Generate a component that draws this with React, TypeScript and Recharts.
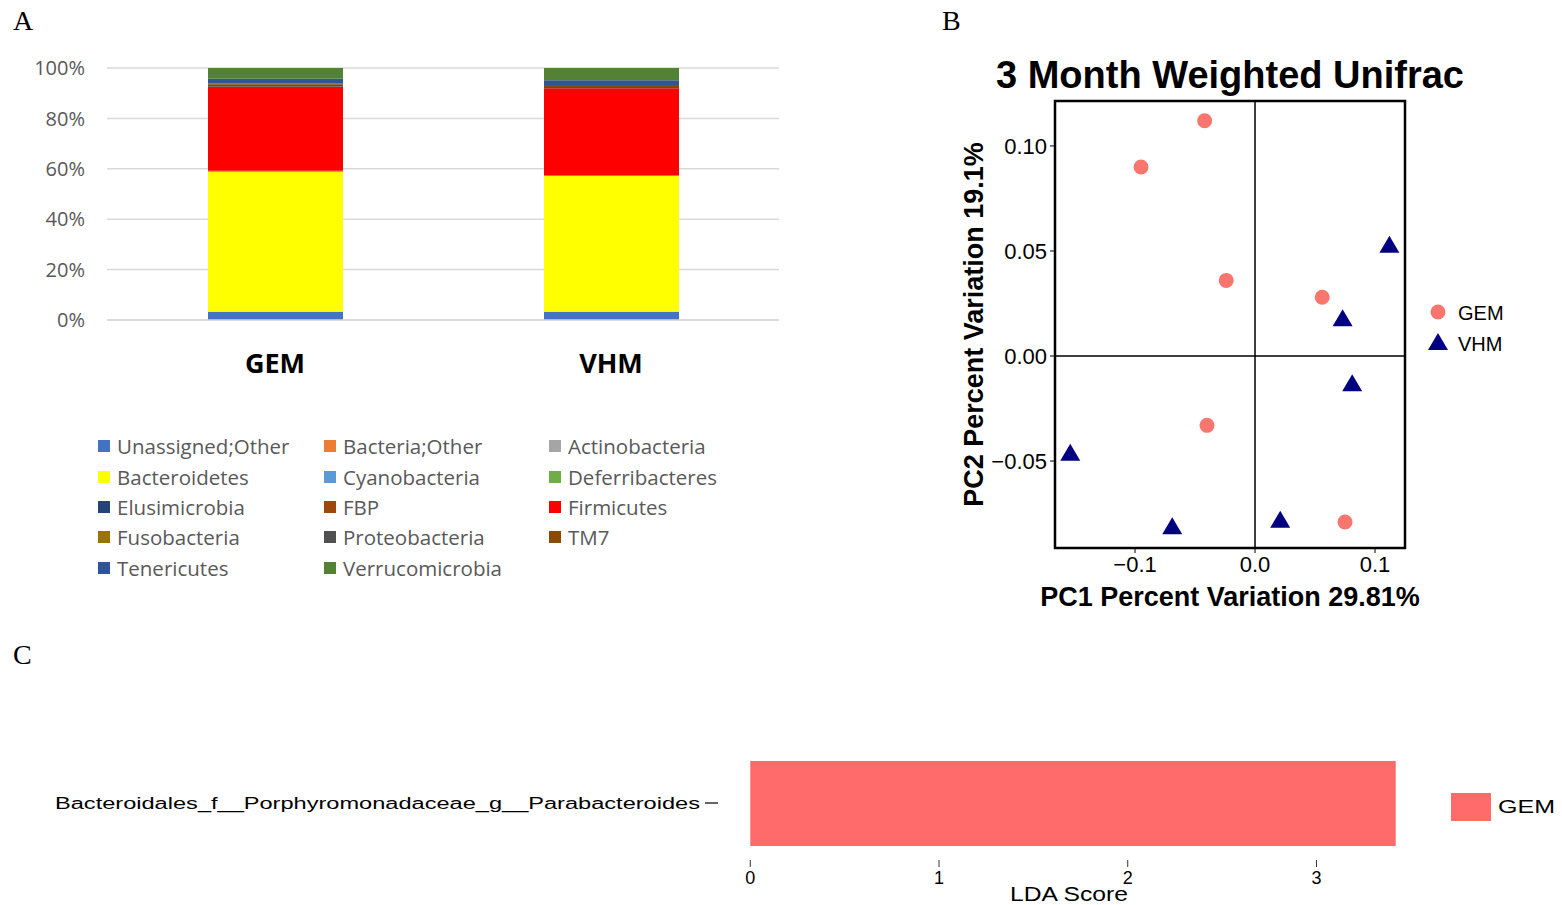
import React from "react";
import {
  BarChart,
  Bar,
  XAxis,
  YAxis,
  CartesianGrid,
  ScatterChart,
  Scatter,
  ReferenceLine,
  ReferenceArea,
} from "recharts";

// panel A - relative abundance by phylum
const groups = ["GEM", "VHM"];
const phyla = [
  "Unassigned;Other",
  "Bacteria;Other",
  "Actinobacteria",
  "Bacteroidetes",
  "Cyanobacteria",
  "Deferribacteres",
  "Elusimicrobia",
  "FBP",
  "Firmicutes",
  "Fusobacteria",
  "Proteobacteria",
  "TM7",
  "Tenericutes",
  "Verrucomicrobia",
];
const phylumColors = [
  "#4472C4", "#ED7D31", "#A5A5A5", "#FFFF00", "#5B9BD5", "#70AD47", "#264478",
  "#9E480E", "#FF0000", "#997300", "#505050", "#8C4A00", "#2F5597", "#548235",
];
const gemShares = [3.2, 0.1, 0.1, 55.4, 0.05, 0.2, 0.1, 0.05, 33.3, 0.05, 0.8, 0.5, 1.9, 4.25];
const vhmShares = [3.2, 0.1, 0.1, 53.7, 0.05, 0.2, 0.05, 0.05, 34.5, 0.05, 0.5, 0.8, 1.8, 4.9];
const percentTicks = [0, 20, 40, 60, 80, 100];

// panel B - PCoA
const gemPC1 = [-0.042, -0.095, -0.024, 0.056, -0.04, 0.075];
const gemPC2 = [0.112, 0.09, 0.036, 0.028, -0.033, -0.079];
const vhmPC1 = [0.112, 0.073, 0.081, -0.154, -0.069, 0.021];
const vhmPC2 = [0.053, 0.018, -0.013, -0.046, -0.081, -0.078];
const pc1Ticks = [-0.1, 0, 0.1];
const pc2Ticks = [-0.05, 0, 0.05, 0.1];
const pc1Domain = [-0.1667, 0.125];
const pc2Domain = [-0.0914, 0.1214];

// panel C - LEfSe
const ldaTaxa = ["Bacteroidales_f__Porphyromonadaceae_g__Parabacteroides"];
const ldaScores = [3.42];
const ldaTicks = [0, 1, 2, 3];

const GEM_PINK = "#F8766D";
const VHM_NAVY = "#000080";
const LDA_RED = "#FF6A6A";
const HELV = "'Liberation Sans', Arial, Helvetica, sans-serif";
const OPEN = "'Open Sans', sans-serif";

const stackData = groups.map((g, gi) => {
  const row: Record<string, any> = { group: g };
  const shares = gi === 0 ? gemShares : vhmShares;
  phyla.forEach((_, i) => (row["p" + i] = shares[i]));
  return row;
});

const gemPoints = gemPC1.map((x, i) => ({ x, y: gemPC2[i] }));
const vhmPoints = vhmPC1.map((x, i) => ({ x, y: vhmPC2[i] }));
const ldaData = ldaTaxa.map((t, i) => ({ taxon: t, score: ldaScores[i] }));

const minus = (s: string) => s.replace("-", "\u2212");

const Circle = (p: any) => <circle cx={p.cx} cy={p.cy} r={7.5} fill={GEM_PINK} />;
const Triangle = (p: any) => (
  <path
    d={`M${p.cx},${p.cy - 9} L${p.cx + 10},${p.cy + 8} L${p.cx - 10},${p.cy + 8} Z`}
    fill={VHM_NAVY}
  />
);

const GroupTick = ({ x, y, payload }: any) => (
  <text x={x} y={y + 42} textAnchor="middle" dominantBaseline="central"
    fontFamily={OPEN} fontWeight={700} fontSize={27} fill="#000">
    {payload.value}
  </text>
);

const TaxonTick = ({ x, y, payload }: any) => (
  <text x={x} y={y} textAnchor="end" dominantBaseline="central" fontFamily={HELV}
    fontSize={16} fill="#000" textLength={645} lengthAdjust="spacingAndGlyphs">
    {payload.value}
  </text>
);

const legendCols = [98, 324, 549];
const legendRows = [446, 477, 507, 537, 568];

export default function App() {
  return (
    <div style={{ position: "absolute", left: 0, top: 0, width: 1562, height: 905, background: "#fff" }}>
      {/* A */}
      <div style={{ position: "absolute", left: 0, top: 0 }}>
        <BarChart width={800} height={400} data={stackData}
          margin={{ top: 68, right: 21, left: 0, bottom: 30 }}>
          <CartesianGrid vertical={false} stroke="#D9D9D9" strokeWidth={1.5} />
          <XAxis dataKey="group" height={50} axisLine={{ stroke: "#D9D9D9", strokeWidth: 1.5 }}
            tickLine={false} tickSize={0} tickMargin={0} tick={<GroupTick />} />
          <YAxis type="number" domain={[0, 100]} ticks={percentTicks} width={107}
            axisLine={false} tickLine={false} tickSize={0} tickMargin={22}
            tickFormatter={(v: number) => `${v}%`}
            tick={{ fontSize: 20, fill: "#595959", fontFamily: OPEN }} />
          {phyla.map((name, i) => (
            <Bar key={name} dataKey={"p" + i} name={name} stackId="a" barSize={135}
              fill={phylumColors[i]} isAnimationActive={false} />
          ))}
        </BarChart>
      </div>

      {/* B */}
      <div style={{ position: "absolute", left: 940, top: 40 }}>
        <ScatterChart width={620} height={590} margin={{ top: 61, right: 155, bottom: 22, left: 0 }}>
          <XAxis type="number" dataKey="x" domain={pc1Domain} ticks={pc1Ticks} allowDataOverflow
            height={60} axisLine={false} tickLine={{ stroke: "#000" }} tickSize={5} tickMargin={3}
            tickFormatter={(v: number) => minus(v.toFixed(1))}
            tick={{ fontSize: 22, fill: "#000", fontFamily: HELV }}
            label={{ value: "PC1 Percent Variation 29.81%", position: "insideBottom", offset: 2,
              style: { fontSize: 27, fontWeight: 700, fill: "#000", fontFamily: HELV } }} />
          <YAxis type="number" dataKey="y" domain={pc2Domain} ticks={pc2Ticks} allowDataOverflow
            width={115} axisLine={false} tickLine={{ stroke: "#000" }} tickSize={5} tickMargin={3}
            tickFormatter={(v: number) => minus(v.toFixed(2))}
            tick={{ fontSize: 22, fill: "#000", fontFamily: HELV }}
            label={{ value: "PC2 Percent Variation 19.1%", angle: -90, position: "insideLeft", offset: 33,
              style: { textAnchor: "middle", fontSize: 27, fontWeight: 700, fill: "#000", fontFamily: HELV } }} />
          <ReferenceArea x1={pc1Domain[0]} x2={pc1Domain[1]} y1={pc2Domain[0]} y2={pc2Domain[1]}
            fill="none" fillOpacity={0} stroke="#000" strokeWidth={2.5} ifOverflow="visible" />
          <ReferenceLine x={0} stroke="#000" strokeWidth={1.5} />
          <ReferenceLine y={0} stroke="#000" strokeWidth={1.5} />
          <Scatter name="GEM" data={gemPoints} shape={Circle} isAnimationActive={false} />
          <Scatter name="VHM" data={vhmPoints} shape={Triangle} isAnimationActive={false} />
        </ScatterChart>
      </div>

      {/* C */}
      <div style={{ position: "absolute", left: 0, top: 730 }}>
        <BarChart width={1562} height={175} data={ldaData} layout="vertical"
          margin={{ top: 16, right: 134, bottom: 0, left: 0 }}>
          <XAxis type="number" dataKey="score" domain={[-0.171, 3.591]} ticks={ldaTicks} allowDataOverflow
            height={45} axisLine={false} tickLine={{ stroke: "#333" }} tickSize={7} tickMargin={4}
            tick={{ fontSize: 18, fill: "#000", fontFamily: HELV }}
            label={{
              content: ({ viewBox }: any) => (
                <text x={viewBox.x + viewBox.width / 2 - 4} y={viewBox.y + 41} textAnchor="middle"
                  fontFamily={HELV} fontSize={20} fill="#000" textLength={118} lengthAdjust="spacingAndGlyphs">
                  LDA Score
                </text>
              ),
            }} />
          <YAxis type="category" dataKey="taxon" width={718} axisLine={false}
            tickLine={{ stroke: "#333", strokeWidth: 1.5 }} tickSize={13} tickMargin={5} tick={<TaxonTick />} />
          <Bar dataKey="score" fill={LDA_RED} barSize={85} isAnimationActive={false} />
        </BarChart>
      </div>

      {/* labels, titles and legends */}
      <svg width={1562} height={905} style={{ position: "absolute", left: 0, top: 0, pointerEvents: "none" }}>
        <g fontFamily="'Liberation Serif', 'Times New Roman', serif" fontSize={28} fill="#000">
          <text x={13} y={30}>A</text>
          <text x={942} y={30}>B</text>
          <text x={13} y={664}>C</text>
        </g>
        <text x={1230} y={88} textAnchor="middle" fontFamily={HELV} fontWeight={700} fontSize={38} fill="#000">
          3 Month Weighted Unifrac
        </text>

        {phyla.map((name, i) => {
          const x = legendCols[i % 3];
          const y = legendRows[Math.floor(i / 3)];
          return (
            <g key={name}>
              <rect x={x} y={y - 6} width={12} height={12} fill={phylumColors[i]} />
              <text x={x + 19} y={y} dominantBaseline="central" fontFamily={OPEN} fontSize={20.5} fill="#595959">
                {name}
              </text>
            </g>
          );
        })}

        <circle cx={1438} cy={312} r={7.5} fill={GEM_PINK} />
        <text x={1458} y={313} dominantBaseline="central" fontFamily={HELV} fontSize={20} fill="#000">GEM</text>
        <path d="M1438,333 L1448,350 L1428,350 Z" fill={VHM_NAVY} />
        <text x={1458} y={344} dominantBaseline="central" fontFamily={HELV} fontSize={20} fill="#000">VHM</text>

        <rect x={1451} y={793} width={40} height={28} fill={LDA_RED} />
        <text x={1498} y={807} dominantBaseline="central" fontFamily={HELV} fontSize={18} fill="#000"
          textLength={57} lengthAdjust="spacingAndGlyphs">GEM</text>
      </svg>
    </div>
  );
}
